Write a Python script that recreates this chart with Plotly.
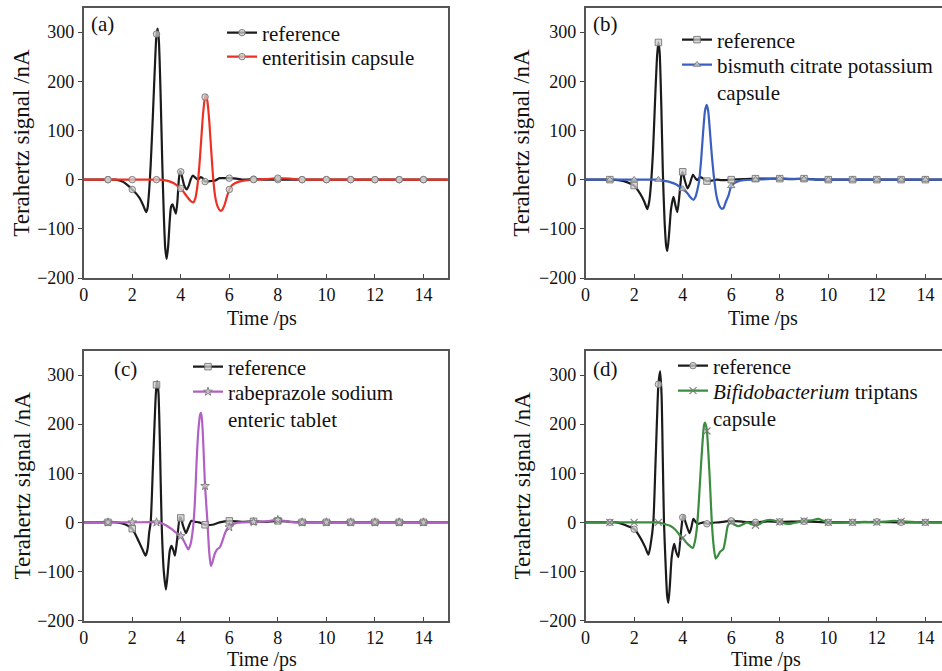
import plotly.graph_objects as go

# ---------------- data (time in ps, signal in nA) ----------------
# panel (a)
a_ref_t = [0, 1, 1.3, 1.6, 2.0, 2.3, 2.45, 2.57, 2.63, 2.7, 2.76, 2.85, 2.95, 3.0, 3.05, 3.1, 3.17, 3.24, 3.3, 3.36, 3.42, 3.48,
           3.55, 3.6, 3.66, 3.73, 3.8, 3.86, 3.92, 3.97, 4.0, 4.07, 4.15, 4.25, 4.33, 4.42, 4.5, 4.6, 4.7, 4.82, 4.92, 5.0,
           5.2, 5.4, 5.6, 5.8, 6.0, 6.3, 6.6, 7, 7.5, 8, 9, 10, 11, 12, 13, 14, 15]
a_ref_v = [0, 0, 0, -4, -20, -37, -52, -66, -58, -20, 30, 130, 250, 296, 307, 280, 170, 30, -70, -140, -161, -135,
           -80, -55, -50, -60, -69, -45, 0, 17, 16, 2, -13, -20, -12, 2, 8, 4, 0, 5, 2, -4,
           -3, -2, 3, 3, 3, 2, 0, 1, 0, 0, 0, 0, 0, 0, 0, 0, 0]
a_sam_t = [0, 1, 2, 3, 3.1, 3.3, 3.5, 3.7, 3.9, 4.0, 4.1, 4.25, 4.4, 4.52, 4.6, 4.68, 4.76, 4.84, 4.92, 5.0, 5.04, 5.1,
           5.18, 5.26, 5.34, 5.42, 5.52, 5.62, 5.7, 5.8, 5.9, 6.0, 6.1, 6.25, 6.4, 6.6, 6.8, 7, 7.5, 8, 8.5, 9, 10, 11,
           12, 13, 14, 15]
a_sam_v = [0, 0, 0, 0, 0, -1, -3, -7, -14, -18, -24, -34, -43, -46, -38, -15, 25, 80, 135, 168, 172, 158,
           115, 55, 0, -35, -55, -63, -62, -52, -35, -20, -12, -7, -4, -2, -1, 0, 1, 3, 2, 0, 0, 0,
           0, 0, 0, 0]

# panel (b)
b_ref_t = [0, 1, 1.35, 1.7, 2.0, 2.24, 2.42, 2.54, 2.62, 2.7, 2.78, 2.87, 2.95, 3.0, 3.05, 3.12, 3.18, 3.25, 3.32, 3.37,
           3.44, 3.52, 3.62, 3.7, 3.78, 3.87, 3.95, 4.0, 4.08, 4.2, 4.3, 4.42, 4.52, 4.6, 4.72, 4.85, 5.0, 5.2, 5.4,
           5.6, 6, 6.5, 7, 7.5, 8, 8.5, 9, 9.5, 10, 11, 12, 13, 14, 15]
b_ref_v = [0, 0, -1, -5, -12, -28, -45, -60, -45, -5, 60, 170, 255, 279, 260, 150, 20, -80, -135, -145,
           -110, -60, -35, -52, -66, -30, 10, 16, 0, -18, -8, 10, 3, -1, 5, 2, -3, -2, 0,
           -1, 0, 1, 2, 2, 2, 1, 2, 0, 0, 0, 0, 0, 0, 0]
b_sam_t = [0, 1, 2, 3, 3.1, 3.3, 3.48, 3.7, 3.89, 4.0, 4.17, 4.3, 4.44, 4.52, 4.6, 4.68, 4.76, 4.84, 4.92, 4.99, 5.05,
           5.12, 5.2, 5.3, 5.4, 5.5, 5.6, 5.68, 5.78, 5.89, 6.0, 6.1, 6.25, 6.5, 7, 7.5, 8, 9, 10, 11, 12, 13, 14, 15]
b_sam_v = [0, 0, 0, 0, -1, -3, -5, -9, -15, -19, -26, -35, -41, -36, -22, -2, 40, 95, 140, 152, 140,
           100, 50, 0, -35, -52, -59, -58, -45, -32, -13, -8, -4, -1, 0, 1, 2, 1, 0, 0, 0, 0, 0, 0]

# panel (c)
c_ref_t = [0, 1, 1.36, 1.7, 2.0, 2.25, 2.42, 2.55, 2.63, 2.7, 2.76, 2.85, 2.95, 3.0, 3.03, 3.08, 3.14, 3.21, 3.3, 3.39,
           3.46, 3.55, 3.62, 3.7, 3.76, 3.85, 3.96, 4.0, 4.1, 4.21, 4.3, 4.44, 4.6, 4.75, 5.0, 5.3, 5.6, 6.0, 6.5, 7,
           7.5, 8, 8.5, 9, 10, 11, 12, 13, 14, 15]
c_ref_v = [0, 0, 0, -4, -13, -37, -55, -68, -55, -20, 0, 110, 240, 280, 287, 265, 160, 0, -100, -137,
           -105, -57, -48, -58, -68, -35, 10, 9, -8, -22, -12, 3, 1, 0, -5, -5, 0, 3, 1, 2,
           1, 3, 1, 0, 0, 0, 0, 0, 0, 0]
c_sam_t = [0, 1, 2, 3, 3.2, 3.42, 3.6, 3.83, 4.0, 4.15, 4.31, 4.4, 4.5, 4.58, 4.65, 4.72, 4.8, 4.84, 4.9, 5.0, 5.1,
           5.17, 5.24, 5.3, 5.4, 5.5, 5.61, 5.7, 5.8, 5.9, 6.0, 6.15, 6.3, 6.6, 7, 7.5, 8, 8.5, 9, 10, 11, 12, 13, 14, 15]
c_sam_v = [0, 0, 0, 0, -2, -7, -13, -22, -28, -40, -55, -45, -14, 40, 122, 185, 220, 223, 190, 74, 0,
           -60, -89, -82, -64, -55, -51, -40, -25, -14, -10, -4, -1, 0, 1, 2, 5, 1, 0, 0, 0, 0, 0, 0, 0]

# panel (d)
d_ref_t = [0, 1, 1.28, 1.6, 2.0, 2.24, 2.45, 2.59, 2.68, 2.79, 2.88, 2.97, 3.0, 3.07, 3.13, 3.18, 3.23, 3.3, 3.36, 3.41,
           3.47, 3.55, 3.65, 3.73, 3.82, 3.92, 4.0, 4.03, 4.12, 4.28, 4.36, 4.44, 4.55, 4.65, 4.86, 5.0, 5.2, 5.5,
           6.0, 6.5, 7, 7.5, 8, 9, 10, 11, 12, 13, 14, 15]
d_ref_v = [0, 0, 0, -5, -14, -30, -50, -66, -45, 0, 120, 250, 281, 308, 260, 130, 0, -90, -150, -164,
           -130, -70, -44, -60, -71, -25, 10, 14, 0, -22, -10, 7, 0, -3, 0, -3, -1, 0,
           3, 1, 0, 2, 1, 2, 0, 0, 1, 0, 0, 0]
d_sam_t = [0, 1, 2, 2.93, 3.0, 3.2, 3.48, 3.7, 3.89, 4.0, 4.2, 4.42, 4.5, 4.58, 4.65, 4.72, 4.8, 4.88, 4.92, 4.97, 5.0,
           5.06, 5.13, 5.2, 5.28, 5.36, 5.45, 5.54, 5.62, 5.68, 5.76, 5.86, 5.95, 6.0, 6.15, 6.3, 6.45, 6.64, 6.85, 7.0,
           7.2, 7.33, 7.6, 8.0, 8.2, 8.43, 8.7, 9.0, 9.3, 9.6, 9.8, 10.0, 10.36, 10.9, 11.0, 11.5, 12.0, 12.7, 13.0,
           13.4, 14.0, 15.0]
d_sam_v = [0, 0, 0, 0, 0, -3, -7, -15, -27, -32, -44, -52, -40, -14, 30, 88, 150, 198, 203, 195, 186,
           140, 74, 0, -50, -74, -68, -60, -57, -54, -35, -7, -1, 0, -5, -8, -5, 0, -4, -6,
           -3, 2, 5, 1, -2, -3, 0, 3, 4, 7, 3, 0, -1, 0, 0, 1, 0, 3, 2,
           1, 0, 0]

ref_name = "reference"
sample_names = ["enteritisin capsule",
                "bismuth citrate potassium<br>capsule",
                "rabeprazole sodium<br>enteric tablet",
                "<i>Bifidobacterium</i> triptans<br>capsule"]
panel_labels = ["(a)", "(b)", "(c)", "(d)"]
x_ticks = [0, 2, 4, 6, 8, 10, 12, 14]
y_ticks = [-200, -100, 0, 100, 200, 300]

# ---------------- styling ----------------
W, H = 942, 671
FONT = "Liberation Serif"
TXT = "#111111"
REF_COLOR = "#1b1b1b"
SAM_COLORS = ["#ee3024", "#3b5fc0", "#b160c4", "#3a8d3e"]
REF_SYMBOLS = ["circle", "square", "square", "circle"]
SAM_SYMBOLS = ["circle", "triangle-up", "star", "x-thin-open"]
MK_FILL = "rgba(205,205,205,0.75)"
MK_EDGE = "rgba(120,120,120,0.9)"
LEG_SIZE = 21

# pixel boxes: (left, right, top, bottom)
boxes = [(83.7, 448.0, 7.5, 278.0), (585.6, 942.0, 7.5, 278.0),
         (83.7, 448.0, 350.5, 620.5), (585.6, 942.0, 350.5, 620.5)]
px_per_ps = 24.27
data = [(a_ref_t, a_ref_v, a_sam_t, a_sam_v), (b_ref_t, b_ref_v, b_sam_t, b_sam_v),
        (c_ref_t, c_ref_v, c_sam_t, c_sam_v), (d_ref_t, d_ref_v, d_sam_t, d_sam_v)]
# legend text start x and first-line centre y, for (reference, sample)
legend_text = [((262, 33), (262, 57)), ((717, 40), (717, 65)),
               ((228, 367), (228, 392)), ((713, 366), (713, 391))]
ytitle_x = [22, 522, 22, 522]
xtitle_c = [(262, 318), (763, 318), (262, 659.5), (766, 659.5)]
label_pos = [(102, 24), (605, 24), (125, 369), (605, 369)]

fig = go.Figure()


def integer_points(t, v):
    xs, ys = [], []
    for ti, vi in zip(t, v):
        if float(ti).is_integer() and 1 <= ti <= 14:
            xs.append(ti)
            ys.append(vi)
    return xs, ys


def marker_style(sym):
    if "open" in sym:
        return dict(symbol=sym, size=7, color=MK_EDGE, line=dict(color=MK_EDGE, width=1.2))
    return dict(symbol=sym, size=6.5, color=MK_FILL, line=dict(color=MK_EDGE, width=1))


layout = {}
annotations = []
for i in range(4):
    n = "" if i == 0 else str(i + 1)
    xa, ya = "x" + n, "y" + n
    l, r, t, b = boxes[i]
    xmax = (r - l) / px_per_ps
    rt, rv, st, sv = data[i]
    scol = SAM_COLORS[i]
    # lines
    fig.add_trace(go.Scatter(x=rt, y=rv, mode="lines", line=dict(color=REF_COLOR, width=2.2, shape="spline", smoothing=0.6),
                             xaxis=xa, yaxis=ya, showlegend=False, hoverinfo="skip"))
    fig.add_trace(go.Scatter(x=st, y=sv, mode="lines", line=dict(color=scol, width=2.2, shape="spline", smoothing=0.6),
                             xaxis=xa, yaxis=ya, showlegend=False, hoverinfo="skip"))
    # markers at 1 ps steps
    mx, my = integer_points(rt, rv)
    fig.add_trace(go.Scatter(x=mx, y=my, mode="markers", marker=marker_style(REF_SYMBOLS[i]),
                             xaxis=xa, yaxis=ya, showlegend=False, hoverinfo="skip"))
    mx, my = integer_points(st, sv)
    fig.add_trace(go.Scatter(x=mx, y=my, mode="markers", marker=marker_style(SAM_SYMBOLS[i]),
                             xaxis=xa, yaxis=ya, showlegend=False, hoverinfo="skip"))
    # legend entries, one legend box per entry for exact placement
    lg_ref = "legend" if i == 0 else "legend" + str(2 * i + 1)
    lg_sam = "legend" + str(2 * i + 2)
    fig.add_trace(go.Scatter(x=[None], y=[None], mode="lines+markers", name=ref_name,
                             line=dict(color=REF_COLOR, width=2.2), marker=marker_style(REF_SYMBOLS[i]),
                             xaxis=xa, yaxis=ya, legend=lg_ref))
    fig.add_trace(go.Scatter(x=[None], y=[None], mode="lines+markers", name=sample_names[i],
                             line=dict(color=scol, width=2.2), marker=marker_style(SAM_SYMBOLS[i]),
                             xaxis=xa, yaxis=ya, legend=lg_sam))
    for lg, (tx, ty) in zip((lg_ref, lg_sam), legend_text[i]):
        layout[lg] = dict(x=(tx - 40) / W, y=1 - (ty - 20.5) / H, xanchor="left", yanchor="top",
                          bgcolor="rgba(0,0,0,0)", font=dict(family=FONT, size=LEG_SIZE, color=TXT),
                          tracegroupgap=0, valign="top", itemwidth=30)

    full = i in (0, 2)
    layout["xaxis" + n] = dict(domain=[l / W, r / W], range=[0, xmax], anchor=ya,
                               tickvals=x_ticks, ticks="inside", ticklen=4, tickwidth=1.2, tickcolor="#444",
                               showline=True, linecolor="#555", linewidth=1.5, mirror=True,
                               showgrid=False, zeroline=False, automargin=False,
                               tickfont=dict(family=FONT, size=18, color=TXT))
    layout["yaxis" + n] = dict(domain=[1 - b / H, 1 - t / H], range=[-200, 350], anchor=xa,
                               tickvals=y_ticks, ticks="outside", ticklen=4, tickwidth=1.2, tickcolor="#444",
                               showline=True, linecolor="#555", linewidth=1.5, mirror=full,
                               showgrid=False, zeroline=False, automargin=False,
                               tickfont=dict(family=FONT, size=18, color=TXT))
    annotations.append(dict(x=ytitle_x[i] / W, y=1 - ((t + b) / 2) / H, xref="paper", yref="paper",
                            text="Terahertz signal /nA", textangle=-90, showarrow=False,
                            font=dict(family=FONT, size=23, color=TXT), xanchor="center", yanchor="middle"))
    cx, cy = xtitle_c[i]
    annotations.append(dict(x=cx / W, y=1 - cy / H, xref="paper", yref="paper",
                            text="Time /ps", showarrow=False,
                            font=dict(family=FONT, size=20, color=TXT), xanchor="center", yanchor="middle"))
    px, py = label_pos[i]
    annotations.append(dict(x=px / W, y=1 - py / H, xref="paper", yref="paper", text=panel_labels[i],
                            showarrow=False, font=dict(family=FONT, size=21, color=TXT),
                            xanchor="center", yanchor="middle"))

fig.update_layout(width=W, height=H, margin=dict(l=0, r=0, t=0, b=0), paper_bgcolor="white",
                  plot_bgcolor="white", annotations=annotations, **layout)
fig.write_html("out.html", config={"displayModeBar": False},
               post_script="document.body.style.margin='0';document.body.style.overflow='hidden';")
